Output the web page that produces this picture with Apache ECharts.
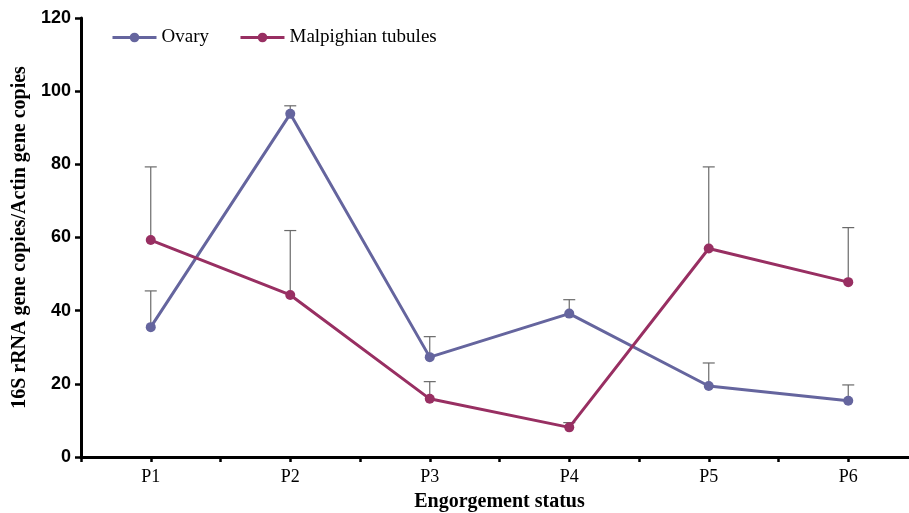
<!DOCTYPE html>
<html><head><meta charset="utf-8">
<script src="https://cdn.jsdelivr.net/npm/echarts@6/dist/echarts.min.js"></script>
<style>html,body{margin:0;padding:0;background:#fff}#c{width:909px;height:513px}</style>
</head><body><div id="c"></div>
<script>
const categories = ['P1','P2','P3','P4','P5','P6'];
const ovaryMean = [35.5, 93.8, 27.3, 39.2, 19.4, 15.4];
const ovaryErr  = [9.9, 2.2, 5.6, 3.8, 6.3, 4.3];
const malpMean  = [59.3, 44.3, 15.9, 8.1, 57.0, 47.8];
const malpErr   = [20.0, 17.6, 4.7, 1.3, 22.3, 14.9];
const yTicks = [0, 20, 40, 60, 80, 100, 120];

const OVARY_COLOR = '#65659e';
const MALP_COLOR = '#982f62';
const serif = '"Liberation Serif", "Times New Roman", serif';
const sans = '"Liberation Sans", Arial, sans-serif';

function errData(means, errs) {
  return means.map((m, i) => [i, m, m + errs[i]]);
}
function errSeries(means, errs, z) {
  return {
    type: 'custom', xAxisIndex: 0, yAxisIndex: 0, z: z, silent: true,
    data: errData(means, errs),
    encode: { x: 0, y: [1, 2] },
    renderItem: function (params, api) {
      const lo = api.coord([api.value(0), api.value(1)]);
      const hi = api.coord([api.value(0), api.value(2)]);
      const w = 6;
      const st = { stroke: '#6a6a6a', lineWidth: 1.2 };
      return { type: 'group', children: [
        { type: 'line', shape: { x1: lo[0], y1: lo[1], x2: hi[0], y2: hi[1] }, style: st },
        { type: 'line', shape: { x1: hi[0] - w, y1: hi[1], x2: hi[0] + w, y2: hi[1] }, style: st }
      ]};
    }
  };
}

const chart = echarts.init(document.getElementById('c'));
chart.setOption({
  animation: false,
  backgroundColor: '#fff',
  grid: { left: 81, right: -9, top: 18, bottom: 56, containLabel: false, outerBoundsMode: 'none' },
  legend: {
    left: 106, top: 23, itemWidth: 44, itemHeight: 12, itemGap: 30,
    textStyle: { fontFamily: serif, fontSize: 19, color: '#000' },
    lineStyle: { width: 3 },
    data: ['Ovary', 'Malpighian tubules']
  },
  xAxis: [{
    type: 'category', data: categories, boundaryGap: true,
    name: 'Engorgement status', nameLocation: 'middle', nameGap: 35,
    nameTextStyle: { fontFamily: serif, fontSize: 20, fontWeight: 'bold', color: '#000' },
    axisLine: { show: true, lineStyle: { color: '#000', width: 3 } },
    axisTick: { show: true, alignWithLabel: true, length: 5, lineStyle: { color: '#000', width: 2.5 } },
    axisLabel: { fontFamily: serif, fontSize: 18, color: '#000', margin: 11 },
    splitLine: { show: false }
  }, {
    type: 'category', data: categories, boundaryGap: true, position: 'bottom',
    axisLine: { show: false },
    axisTick: { show: true, alignWithLabel: false, length: 5, lineStyle: { color: '#000', width: 2.5 } },
    axisLabel: { show: false }, splitLine: { show: false }
  }],
  yAxis: {
    type: 'value', min: yTicks[0], max: yTicks[yTicks.length - 1], interval: yTicks[1] - yTicks[0],
    name: '16S rRNA gene copies/Actin gene copies', nameLocation: 'middle', nameGap: 49,
    nameTextStyle: { fontFamily: serif, fontSize: 20, fontWeight: 'bold', color: '#000' },
    axisLine: { show: true, lineStyle: { color: '#000', width: 3 } },
    axisTick: { show: true, length: 6, lineStyle: { color: '#000', width: 2.5 } },
    axisLabel: { fontFamily: sans, fontSize: 18, fontWeight: 'bold', color: '#000', margin: 10 },
    splitLine: { show: false }
  },
  series: [
    errSeries(ovaryMean, ovaryErr, 1),
    errSeries(malpMean, malpErr, 1),
    {
      name: 'Ovary', type: 'line', data: ovaryMean, z: 3,
      symbol: 'circle', symbolSize: 10,
      lineStyle: { color: OVARY_COLOR, width: 3 },
      itemStyle: { color: OVARY_COLOR }
    },
    {
      name: 'Malpighian tubules', type: 'line', data: malpMean, z: 3,
      symbol: 'circle', symbolSize: 10,
      lineStyle: { color: MALP_COLOR, width: 3 },
      itemStyle: { color: MALP_COLOR }
    }
  ]
});
</script></body></html>
